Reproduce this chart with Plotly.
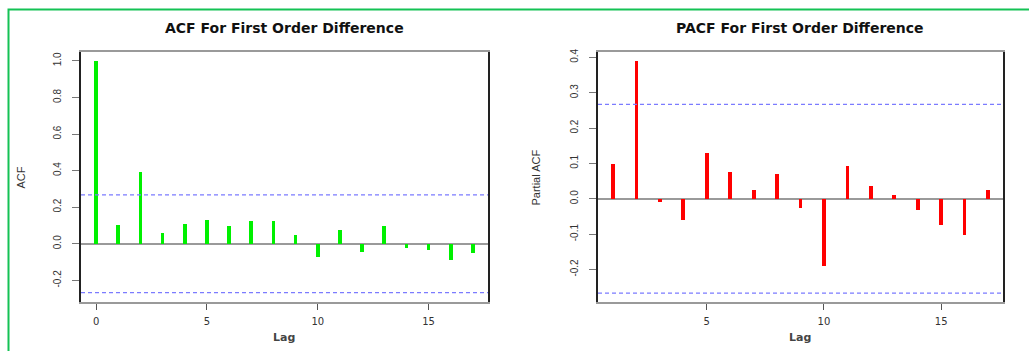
import plotly.graph_objects as go

# Autocorrelations of the first-differenced series
acf_lags = list(range(0, 18))
acf_values = [1.0, 0.105, 0.395, 0.06, 0.11, 0.13, 0.10, 0.125, 0.125, 0.05,
              -0.07, 0.08, -0.045, 0.10, -0.02, -0.03, -0.085, -0.05]

pacf_lags = list(range(1, 18))
pacf_values = [0.10, 0.39, -0.008, -0.06, 0.13, 0.077, 0.025, 0.07, -0.025,
               -0.19, 0.094, 0.037, 0.012, -0.032, -0.074, -0.10, 0.027]

conf_bound = 0.267

acf_yticks = [-0.2, 0.0, 0.2, 0.4, 0.6, 0.8, 1.0]
pacf_yticks = [-0.2, -0.1, 0.0, 0.1, 0.2, 0.3, 0.4]
acf_xticks = [0, 5, 10, 15]
pacf_xticks = [5, 10, 15]

W, H = 1029, 351


def px_x(v):
    return v / W


def px_y(v):
    return 1 - v / H


fig = go.Figure()

fig.add_trace(go.Bar(x=acf_lags, y=acf_values, width=0.17, marker=dict(color="#00f000", line=dict(width=0)),
                     xaxis="x", yaxis="y", showlegend=False, hoverinfo="x+y"))
fig.add_trace(go.Bar(x=pacf_lags, y=pacf_values, width=0.16, marker=dict(color="#ff0000", line=dict(width=0)),
                     xaxis="x2", yaxis="y2", showlegend=False, hoverinfo="x+y"))

tick_font = dict(family="Liberation Sans, Arial, sans-serif", size=10, color="#333333")
xtick_font = dict(family="DejaVu Sans, sans-serif", size=10, color="#333333")

common_x = dict(showgrid=False, zeroline=False, showline=True, mirror=True, linecolor="#9a9a9a", linewidth=2,
                ticks="outside", ticklen=6, tickcolor="#555555", tickwidth=1, tickfont=xtick_font,
                ticklabelstandoff=3)
common_y = dict(showgrid=False, zeroline=True, zerolinecolor="#9a9a9a", zerolinewidth=2,
                showline=True, mirror=True, linecolor="#222222", linewidth=1.5,
                ticks="outside", ticklen=7, tickcolor="#777777", tickwidth=1, tickfont=tick_font,
                tickangle=-90, ticklabelstandoff=7)

y_dom = [px_y(302), px_y(49)]

fig.update_layout(
    width=W, height=H, margin=dict(l=0, r=0, t=0, b=0),
    paper_bgcolor="white", plot_bgcolor="white", bargap=0,
    xaxis=dict(domain=[px_x(81), px_x(488)], range=[-0.68, 17.68], tickvals=acf_xticks,
               ticktext=[str(v) for v in acf_xticks], anchor="y", **common_x),
    yaxis=dict(domain=y_dom, range=[-0.3208, 1.0508], tickvals=acf_yticks,
               ticktext=[f"{v:.1f}" for v in acf_yticks], anchor="x", **common_y),
    xaxis2=dict(domain=[px_x(598), px_x(1003)], range=[0.36, 17.64], tickvals=pacf_xticks,
                ticktext=[str(v) for v in pacf_xticks], anchor="y2", **common_x),
    yaxis2=dict(domain=y_dom, range=[-0.2933, 0.4163], tickvals=pacf_yticks,
                ticktext=[f"{v:.1f}" for v in pacf_yticks], anchor="x2", **common_y),
)

# Significance bounds
for xr, yr, x0, x1 in [("x", "y", -0.68, 17.68), ("x2", "y2", 0.36, 17.64)]:
    for b in (conf_bound, -conf_bound):
        fig.add_shape(type="line", xref=xr, yref=yr, x0=x0, x1=x1, y0=b, y1=b,
                      line=dict(color="#7b7bff", width=1.2, dash="4px,3px"))

# Outer green frame
fig.add_shape(type="path", xref="paper", yref="paper",
              path=f"M {px_x(8.5)},0 L {px_x(8.5)},{px_y(6.5)} L 1,{px_y(6.5)}",
              line=dict(color="#14c255", width=2))

title_font = dict(family="DejaVu Sans, sans-serif", size=14, color="#111111")
lag_font = dict(family="DejaVu Sans, sans-serif", size=11, color="#444444")
label_font = dict(family="Liberation Sans, Arial, sans-serif", size=11, color="#333333")

annotations = [
    dict(text="<b>ACF For First Order Difference</b>", x=px_x(284), y=px_y(25), font=title_font),
    dict(text="<b>PACF For First Order Difference</b>", x=px_x(800), y=px_y(25), font=title_font),
    dict(text="<b>Lag</b>", x=px_x(284), y=px_y(337), font=lag_font),
    dict(text="<b>Lag</b>", x=px_x(800), y=px_y(337), font=lag_font),
    dict(text="ACF", x=px_x(21), y=px_y(176), textangle=-90, font=label_font),
    dict(text="Partial ACF", x=px_x(536), y=px_y(176), textangle=-90, font=label_font),
]
for a in annotations:
    fig.add_annotation(xref="paper", yref="paper", showarrow=False, xanchor="center", yanchor="middle", **a)

fig.write_html("out.html")
